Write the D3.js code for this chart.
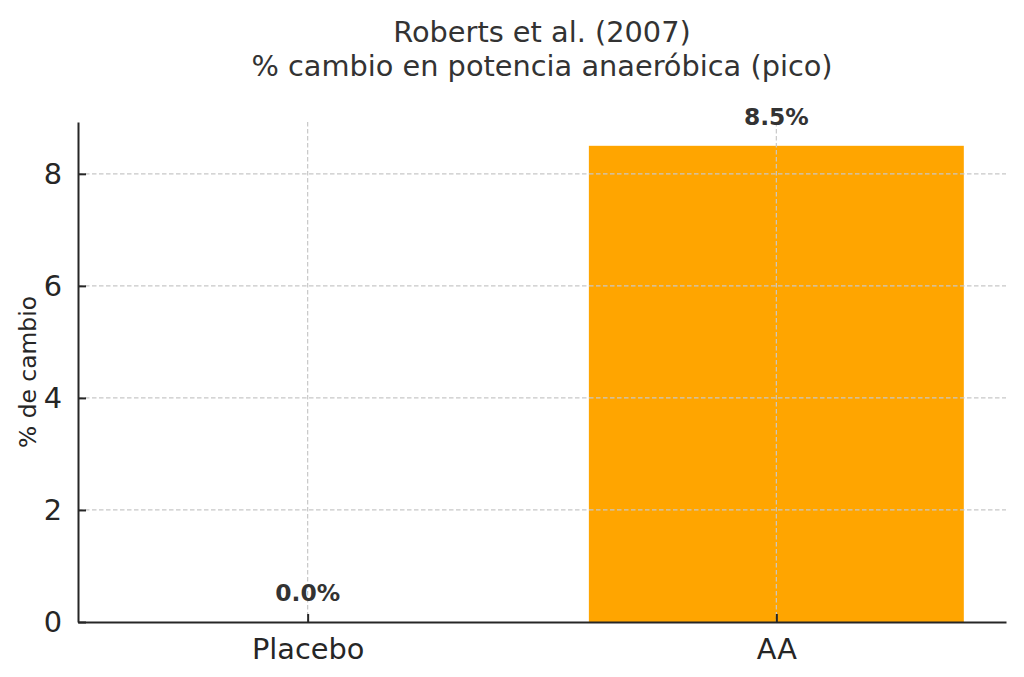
<!DOCTYPE html>
<html>
<head>
<meta charset="utf-8">
<script src="https://cdn.jsdelivr.net/npm/d3@7/dist/d3.min.js"></script>
<style>
  html, body { margin: 0; padding: 0; background: #fff; }
  svg { display: block; font-family: "DejaVu Sans", sans-serif; }
</style>
</head>
<body>
<div id="chart"></div>
<script>
// Datos
const categories = ['Placebo', 'AA'];
const values = [0.0, 8.5];
const yTicks = [0, 2, 4, 6, 8];
const titleLines = ['Roberts et al. (2007)', '% cambio en potencia anaeróbica (pico)'];
const yLabel = '% de cambio';

const width = 1024, height = 677;
const margin = { top: 122, right: 18, bottom: 55, left: 78 };
const innerW = width - margin.left - margin.right;
const innerH = height - margin.top - margin.bottom;

const svg = d3.select('#chart').append('svg')
    .attr('width', width)
    .attr('height', height);

const g = svg.append('g')
    .attr('transform', `translate(${margin.left},${margin.top})`);

// Escalas (matplotlib: barras de ancho 0.8, margen 5%)
const x = d3.scaleLinear().domain([-0.49, 1.49]).range([0, innerW]);
const y = d3.scaleLinear().domain([0, d3.max(values) * 1.05]).range([innerH, 0]);
const barW = x(0.8) - x(0);

// Barras
g.selectAll('rect.bar')
    .data(values)
    .join('rect')
    .attr('class', 'bar')
    .attr('x', (d, i) => x(i) - barW / 2)
    .attr('y', d => y(d))
    .attr('width', barW)
    .attr('height', d => innerH - y(d))
    .attr('fill', '#FFA500');

// Grilla (por encima de las barras)
const grid = g.append('g').attr('class', 'grid')
    .attr('stroke', '#c8c8c8')
    .attr('stroke-width', 1.2)
    .attr('stroke-dasharray', '4.5,2.5');

grid.selectAll('line.h')
    .data(yTicks.filter(t => t > 0))
    .join('line')
    .attr('x1', 0).attr('x2', innerW)
    .attr('y1', d => y(d)).attr('y2', d => y(d));

grid.selectAll('line.v')
    .data(categories)
    .join('line')
    .attr('x1', (d, i) => x(i)).attr('x2', (d, i) => x(i))
    .attr('y1', 0).attr('y2', innerH);

// Ejes
const yAxis = g.append('g')
    .call(d3.axisLeft(y).tickValues(yTicks).tickFormat(d3.format('d')).tickSizeInner(-8).tickSizeOuter(0).tickPadding(16));

const xAxis = g.append('g')
    .attr('transform', `translate(0,${innerH})`)
    .call(d3.axisBottom(x).tickValues(d3.range(categories.length)).tickFormat(i => categories[i]).tickSizeInner(-8).tickSizeOuter(0).tickPadding(17));

[yAxis, xAxis].forEach(ax => {
    ax.select('.domain').attr('stroke', '#262626').attr('stroke-width', 2);
    ax.selectAll('.tick line').attr('stroke', '#262626').attr('stroke-width', 2);
    ax.selectAll('.tick text')
        .attr('font-family', '"DejaVu Sans", sans-serif')
        .attr('font-size', 28.8)
        .attr('fill', '#262626');
});

// Etiquetas de valor
g.selectAll('text.val')
    .data(values)
    .join('text')
    .attr('class', 'val')
    .attr('x', (d, i) => x(i))
    .attr('y', d => y(d) - 21)
    .attr('text-anchor', 'middle')
    .attr('font-size', 23.4)
    .attr('font-weight', 'bold')
    .attr('fill', '#333')
    .text(d => d.toFixed(1) + '%');

// Etiqueta eje Y
svg.append('text')
    .attr('transform', `translate(36,${margin.top + innerH / 2}) rotate(-90)`)
    .attr('text-anchor', 'middle')
    .attr('font-size', 23.4)
    .attr('fill', '#262626')
    .text(yLabel);

// Título
svg.append('g').selectAll('text')
    .data(titleLines)
    .join('text')
    .attr('x', margin.left + innerW / 2)
    .attr('y', (d, i) => 42 + i * 34)
    .attr('text-anchor', 'middle')
    .attr('font-size', 28.8)
    .attr('fill', '#333')
    .text(d => d);
</script>
</body>
</html>
